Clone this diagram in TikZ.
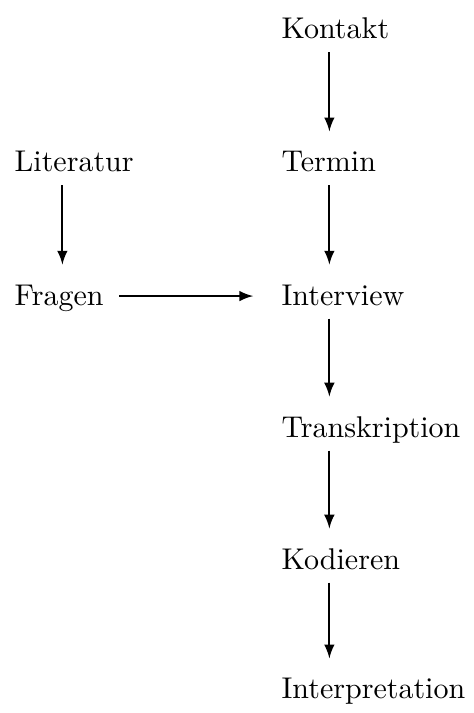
\documentclass[tikz,border=0pt]{standalone}
\usepackage{tikz}
\usetikzlibrary{arrows}
\begin{document}
\begin{tikzpicture}[schritt/.style={anchor=base west, inner sep=3.3pt, text height=7pt, text depth=1pt},
			x=1pt, y=1pt,
			>=latex,   %Pfeilspitzen
			font=\normalsize]
			\useasboundingbox (0,0) rectangle (158,-237.7);
			\node[schritt] (kontakt) at (90.4,-13) {Kontakt};
			\node[schritt] (termin) at (90.4,-57.3) {Termin};
			\node[schritt] (interview) at (90.4,-101.7) {Interview};
			\node[schritt] (transkription) at (90.4,-145.7) {Transkription};
			\node[schritt] (kodieren) at (90.4,-189.7) {Kodieren};
			\node[schritt] (interpretation) at (90.4,-233) {Interpretation};
			\node[schritt] (literatur) at (1.4,-57.3) {Literatur};
			\node[schritt] (fragen) at (1.4,-101.7) {Fragen};
			\draw[black,semithick,->,shorten >=3pt] ([xshift=19.4pt]kontakt.south west) -- ([xshift=19.4pt]termin.north west);
			\draw[black,semithick,->,shorten >=3pt] ([xshift=19.4pt]termin.south west) -- ([xshift=19.4pt]interview.north west);
			\draw[black,semithick,->,shorten >=3pt] ([xshift=19.4pt]interview.south west) -- ([xshift=19.4pt]transkription.north west);
			\draw[black,semithick,->,shorten >=3pt] ([xshift=19.4pt]transkription.south west) -- ([xshift=19.4pt]kodieren.north west);
			\draw[black,semithick,->,shorten >=3pt] ([xshift=19.4pt]kodieren.south west) -- ([xshift=19.4pt]interpretation.north west);
			\draw[black,semithick,->,shorten >=3pt] ([xshift=19.4pt]literatur.south west) -- ([xshift=19.4pt]fragen.north west);
			\draw[black,semithick,->,shorten <=1.7pt,shorten >=6pt] (fragen.east) -- (interview.west);
		\end{tikzpicture}
\end{document}
